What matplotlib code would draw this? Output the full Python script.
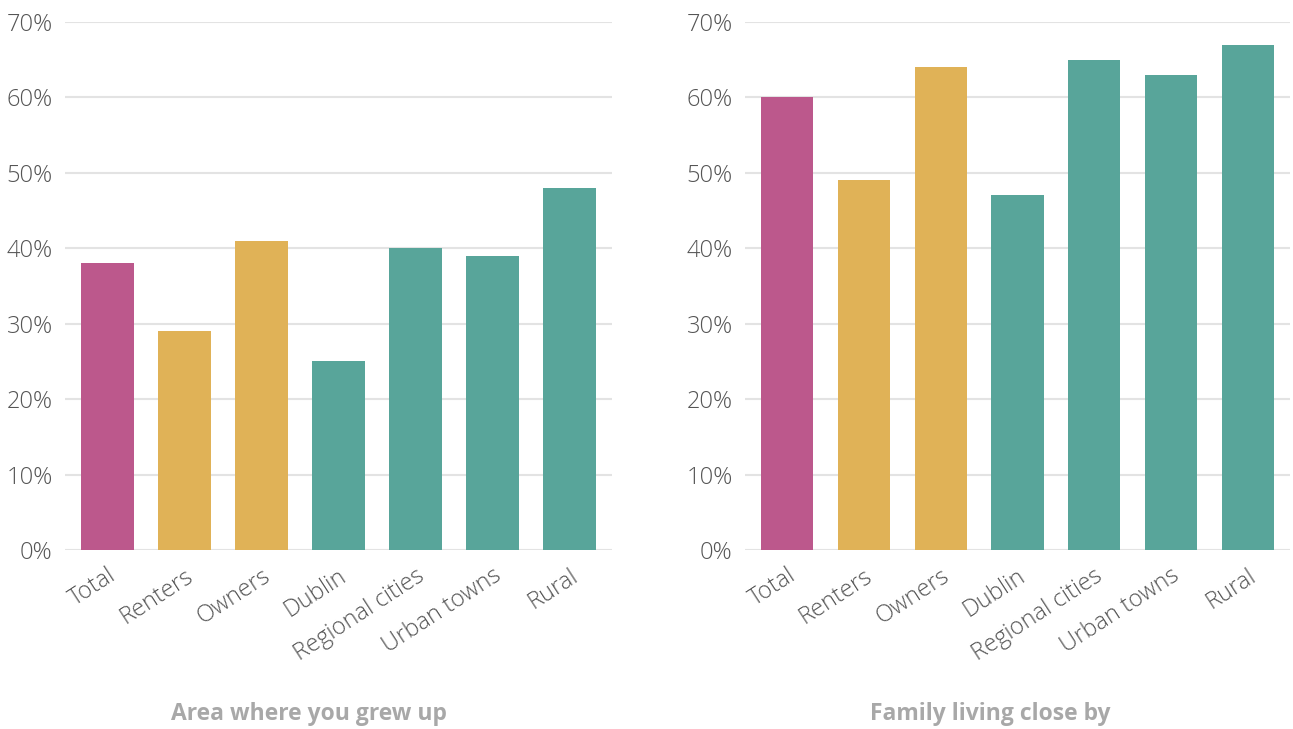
import matplotlib
matplotlib.use("Agg")
import matplotlib.pyplot as plt
from matplotlib.ticker import FuncFormatter

categories = ["Total", "Renters", "Owners", "Dublin", "Regional cities", "Urban towns", "Rural"]
grew_up = [38, 29, 41, 25, 40, 39, 48]
family_close = [60, 49, 64, 47, 65, 63, 67]
titles = ["Area where you grew up", "Family living close by"]
yticks = [0, 10, 20, 30, 40, 50, 60, 70]

PINK = "#BC588C"
YELLOW = "#E0B257"
TEAL = "#58A59A"
colors = [PINK, YELLOW, YELLOW, TEAL, TEAL, TEAL, TEAL]

plt.rcParams["font.family"] = ["Open Sans", "DejaVu Sans"]

fig = plt.figure(figsize=(12.93, 7.29), dpi=100)
W, H = 1293, 729
axes_px = [(65, 612), (745, 1290)]
title_cx = [309, 990]
bottom_px, top_px = 550, 22

for (x0, x1), vals, title, tcx in zip(axes_px, [grew_up, family_close], titles, title_cx):
    ax = fig.add_axes([x0 / W, 1 - bottom_px / H, (x1 - x0) / W, (bottom_px - top_px) / H])
    ax.bar(range(len(categories)), vals, width=0.68, color=colors, zorder=3)
    ax.set_xlim(-0.55, len(categories) - 0.45)
    ax.set_ylim(0, 70)
    ax.set_yticks(yticks)
    ax.yaxis.set_major_formatter(FuncFormatter(lambda v, p: f"{v:.0f}%"))
    ax.grid(axis="y", color="#E3E3E3", linewidth=1.5, zorder=0)
    for s in ax.spines.values():
        s.set_visible(False)
    ax.tick_params(axis="both", length=0, colors="#555555", labelsize=17)
    ax.tick_params(axis="y", pad=9)
    ax.set_xticks(range(len(categories)))
    ax.set_xticklabels(categories, rotation=33, ha="right", rotation_mode="anchor",
                       fontweight="light")
    for lab in ax.get_yticklabels():
        lab.set_fontweight("light")
    ax.tick_params(axis="x", pad=10)
    fig.text(tcx / W, (H - 714) / H, title, ha="center", va="center",
             fontsize=16.5, fontweight="bold", color="#A8A8A8")

fig.savefig("out.png", dpi=100)
